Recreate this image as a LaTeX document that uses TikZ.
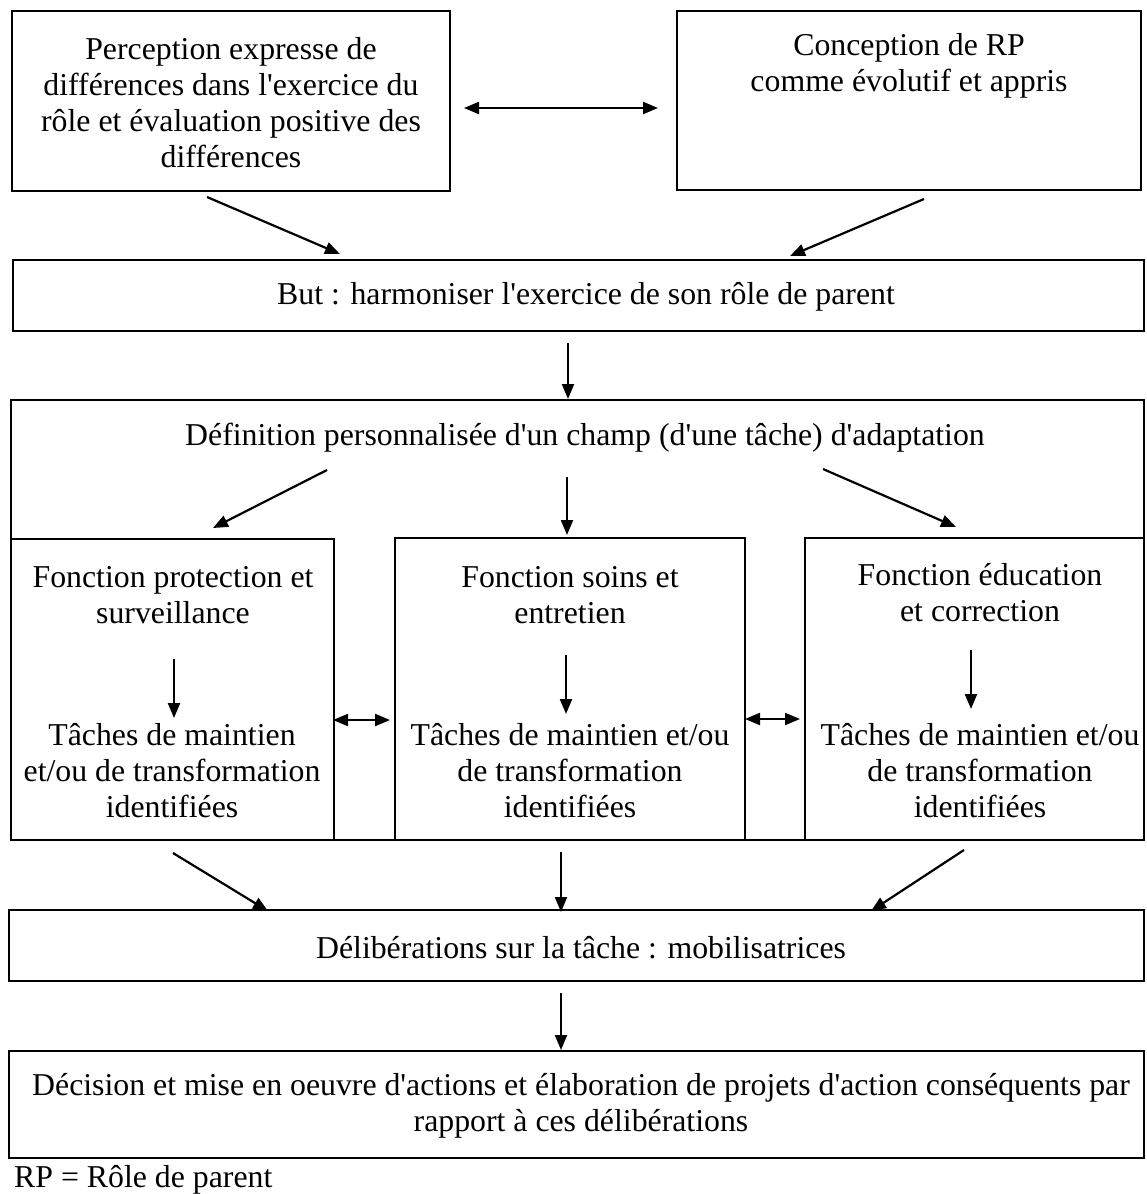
\documentclass[tikz,border=0pt]{standalone}
\usepackage{fontspec}
\setmainfont{Liberation Serif}[Ligatures=TeXOff]
\usetikzlibrary{arrows.meta}
\begin{document}
\begin{tikzpicture}[x=1pt,y=-1pt,
  box/.style={draw=black,line width=2pt,rectangle,inner sep=0pt},
  txt/.style={align=center,inner sep=0pt,font=\fontsize{31.8}{36}\selectfont},
  tip/.style={Triangle[length=15pt,width=12pt]},
  arr/.style={line width=2.2pt,-{Triangle[length=15pt,width=12pt]}},
  darr/.style={line width=2.2pt,{Triangle[length=15pt,width=12pt]}-{Triangle[length=15pt,width=12pt]}}]
\useasboundingbox (0,0) rectangle (1147,1194);

% boxes
\node[box,minimum width=438pt,minimum height=180pt] (perc) at (231,101) {};
\node[box,minimum width=464pt,minimum height=179pt] (conc) at (909,100.5) {};
\node[box,minimum width=1131pt,minimum height=71pt] (but) at (578.5,295.5) {};
\node[box,minimum width=1133pt,minimum height=440pt] (def) at (577.5,620) {};
\node[box,minimum width=323pt,minimum height=301pt] (prot) at (172.5,689.5) {};
\node[box,minimum width=350pt,minimum height=302pt] (soin) at (570,689) {};
\node[box,minimum width=339pt,minimum height=302pt] (educ) at (974.5,689) {};
\node[box,minimum width=1135pt,minimum height=71pt] (delib) at (576.5,945.5) {};
\node[box,minimum width=1135pt,minimum height=107pt] (decis) at (576.5,1104.5) {};

% texts
\node[txt] (tperc) at (231,103) {Perception expresse de\\différences dans l'exercice du\\rôle et évaluation positive des\\différences};
\node[txt] (tconc) at (909,66) {Conception de RP\\comme évolutif et appris};
\node[txt] (tbut) at (586,297) {But : harmoniser l'exercice de son rôle de parent};
\node[txt] (tdef) at (585,438) {Définition personnalisée d'un champ (d'une tâche) d'adaptation};
\node[txt] (fprot) at (173,595) {Fonction protection et\\surveillance};
\node[txt] (fsoin) at (570,595) {Fonction soins et\\entretien};
\node[txt] (feduc) at (980,593) {Fonction éducation\\et correction};
\node[txt] (tprot) at (172,771) {Tâches de maintien\\et/ou de transformation\\identifiées};
\node[txt] (tsoin) at (570,771) {Tâches de maintien et/ou\\de transformation\\identifiées};
\node[txt] (teduc) at (980,771) {Tâches de maintien et/ou\\de transformation\\identifiées};
\node[txt] (tdelib) at (581,948) {Délibérations sur la tâche : mobilisatrices};
\node[txt] (tdecis) at (581,1106) {Décision et mise en oeuvre d'actions et élaboration de projets d'action conséquents par\\rapport à ces délibérations};
\node[txt,anchor=west] (note) at (14,1180) {RP = Rôle de parent};

% connector end points
\coordinate (c1s) at (207,197);  \coordinate (c1e) at (340,254);
\coordinate (c2s) at (924,199);  \coordinate (c2e) at (790,256);
\coordinate (c3s) at (568,343);  \coordinate (c3e) at (568,399);
\coordinate (c4s) at (327,470);  \coordinate (c4e) at (213,528);
\coordinate (c5s) at (567,477);  \coordinate (c5e) at (567,535);
\coordinate (c6s) at (823,469);  \coordinate (c6e) at (956,527);
\coordinate (p1s) at (174,659);  \coordinate (p1e) at (174,718);
\coordinate (p2s) at (566,655);  \coordinate (p2e) at (566,714);
\coordinate (p3s) at (971,650);  \coordinate (p3e) at (971,709);
\coordinate (h1s) at (333,720);  \coordinate (h1e) at (390,720);
\coordinate (h2s) at (745,719);  \coordinate (h2e) at (800,719);
\coordinate (d1s) at (173,853);  \coordinate (d1e) at (268,911);
\coordinate (d2s) at (561,852);  \coordinate (d2e) at (561,912);
\coordinate (d3s) at (964,850);  \coordinate (d3e) at (871,911);
\coordinate (e1s) at (561,993);  \coordinate (e1e) at (561,1050);
\coordinate (t1s) at (464,108);  \coordinate (t1e) at (658,108);

% connectors
\draw[darr] (t1s) -- (t1e);
\draw[arr] (c1s) -- (c1e);
\draw[arr] (c2s) -- (c2e);
\draw[arr] (c3s) -- (c3e);
\draw[arr] (c4s) -- (c4e);
\draw[arr] (c5s) -- (c5e);
\draw[arr] (c6s) -- (c6e);
\draw[arr] (p1s) -- (p1e);
\draw[arr] (p2s) -- (p2e);
\draw[arr] (p3s) -- (p3e);
\draw[darr] (h1s) -- (h1e);
\draw[darr] (h2s) -- (h2e);
\draw[arr] (d1s) -- (d1e);
\draw[arr] (d2s) -- (d2e);
\draw[arr] (d3s) -- (d3e);
\draw[arr] (e1s) -- (e1e);
\end{tikzpicture}
\end{document}
